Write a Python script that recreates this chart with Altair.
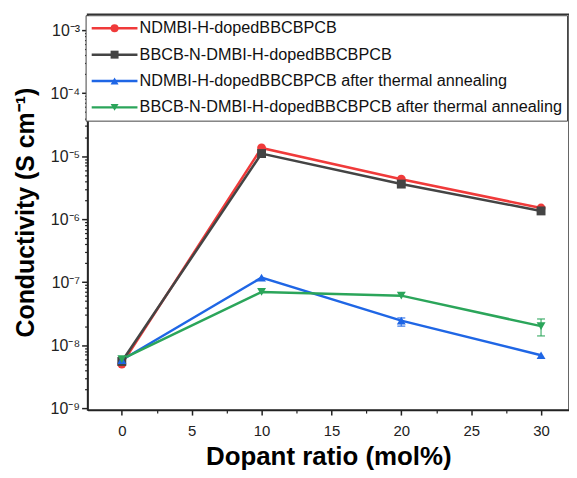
import altair as alt
import pandas as pd

dopant = [0, 10, 20, 30]
series_names = [
    "NDMBI-H-dopedBBCBPCB",
    "BBCB-N-DMBI-H-dopedBBCBPCB",
    "NDMBI-H-dopedBBCBPCB after thermal annealing",
    "BBCB-N-DMBI-H-dopedBBCBPCB after thermal annealing",
]
red_vals = [5.0e-9, 1.35e-5, 4.3e-6, 1.5e-6]
black_vals = [5.5e-9, 1.1e-5, 3.6e-6, 1.35e-6]
blue_vals = [5.8e-9, 1.18e-7, 2.45e-8, 6.9e-9]
green_vals = [6.0e-9, 7.0e-8, 6.1e-8, 2.0e-8]
colors = ["#F03A3A", "#444444", "#1F66E5", "#2BA55A"]
shapes = ["circle", "square", "triangle-up", "triangle-down"]

err_series = [series_names[2], series_names[3]]
err_x = [20, 30]
err_lo = [2.0e-8, 1.4e-8]
err_hi = [2.7e-8, 2.6e-8]

x_major = [0, 5, 10, 15, 20, 25, 30]
x_minor = [2.5, 7.5, 12.5, 17.5, 22.5, 27.5]
y_major = [1e-9, 1e-8, 1e-7, 1e-6, 1e-5, 1e-4, 1e-3]
y_minor = [k * 10.0 ** e for e in range(-9, -3) for k in range(2, 10)]

rows = []
for name, vals in zip(series_names, [red_vals, black_vals, blue_vals, green_vals]):
    for x, v in zip(dopant, vals):
        rows.append({"dopant": x, "cond": v, "series": name, "series_m": name})
df = pd.DataFrame(rows)
err_df = pd.DataFrame({"series": err_series, "dopant": err_x, "lo": err_lo, "hi": err_hi})

xscale = alt.Scale(domain=[-2.45, 32.0], nice=False, zero=False)
yscale = alt.Scale(type="log", domain=[9.3e-10, 1.79e-3], nice=False)

sup = "['⁰','¹','²','³','⁴','⁵','⁶','⁷','⁸','⁹']"
label_expr = "'10⁻' + " + sup + "[round(-log(datum.value)/LN10)]"

common_leg = dict(
    orient="none", legendX=-2, legendY=1, direction="vertical", title=None,
    padding=5, rowPadding=9.5, labelFontSize=16.3, labelLimit=600,
    labelFont="Liberation Sans", symbolOffset=16, labelOffset=17, symbolSize=64,
)

lines = alt.Chart(df).mark_line(strokeWidth=2.5).encode(
    x=alt.X("dopant:Q", scale=xscale, axis=alt.Axis(
        values=x_major, title="Dopant ratio (mol%)", tickSize=5, grid=False,
        labelFontSize=15, labelPadding=9, titleFontSize=26, titleFontWeight="bold",
        titlePadding=5, domainColor="#222", domainWidth=1.5, tickColor="#222",
        tickWidth=1.5, labelColor="#222", titleColor="#000", orient="bottom")),
    y=alt.Y("cond:Q", scale=yscale, axis=alt.Axis(
        values=y_major, labelExpr=label_expr, title="Conductivity (S cm⁻¹)",
        tickSize=6, grid=False, labelFontSize=16, labelPadding=2, titleFontSize=25,
        titleFontWeight="bold", titlePadding=12, domainColor="#222", domainWidth=1.5,
        tickColor="#222", tickWidth=1.5, labelColor="#222", titleColor="#000",
        orient="left")),
    color=alt.Color("series:N", scale=alt.Scale(domain=series_names, range=colors),
                    legend=alt.Legend(symbolType="M-5.75,0L5.75,0", symbolStrokeWidth=2.5,
                                      fillColor="white", strokeColor="#444",
                                      labelColor="#111", zindex=1, **common_leg)),
    order="dopant:Q",
)

err_color = alt.Color("series:N", scale=alt.Scale(domain=series_names, range=colors), legend=None)

err_rule = alt.Chart(err_df).mark_rule(opacity=0.7, strokeWidth=1.5).encode(
    x=alt.X("dopant:Q", scale=xscale, axis=alt.Axis(
        values=x_minor, labels=False, title=None, tickSize=3, domain=False, grid=False,
        tickColor="#222", tickWidth=1.2, orient="bottom")),
    y=alt.Y("lo:Q", scale=yscale, axis=alt.Axis(
        values=y_minor, labels=False, title=None, tickSize=3, domain=False, grid=False,
        tickColor="#222", tickWidth=1.2, orient="left")),
    y2="hi:Q",
    color=err_color,
)

cap_lo = alt.Chart(err_df).mark_tick(orient="horizontal", size=8, thickness=1.5, opacity=0.7).encode(
    x=alt.X("dopant:Q", scale=xscale, axis=None),
    y=alt.Y("lo:Q", scale=yscale, axis=None),
    color=err_color,
)
cap_hi = alt.Chart(err_df).mark_tick(orient="horizontal", size=8, thickness=1.5, opacity=0.7).encode(
    x=alt.X("dopant:Q", scale=xscale, axis=None),
    y=alt.Y("hi:Q", scale=yscale, axis=None),
    color=err_color,
)

pts = alt.Chart(df).mark_point(filled=True, opacity=1, size=80).encode(
    x=alt.X("dopant:Q", scale=xscale, axis=None),
    y=alt.Y("cond:Q", scale=yscale, axis=None),
    color=alt.Color("series_m:N", scale=alt.Scale(domain=series_names, range=colors),
                    legend=alt.Legend(labelOpacity=0, zindex=2, **common_leg)),
    shape=alt.Shape("series_m:N", scale=alt.Scale(domain=series_names, range=shapes),
                    legend=alt.Legend(labelOpacity=0, zindex=2, **common_leg)),
)

chart = alt.layer(lines, err_rule, cap_lo, cap_hi, pts).resolve_scale(
    color="independent", shape="independent"
).resolve_axis(x="independent", y="independent").properties(
    width=484, height=398,
    padding={"left": 5, "top": 5, "right": 0, "bottom": 5},
).configure(font="Liberation Sans").configure_view(stroke="#333", strokeWidth=1.5)

chart.save("out.html", embed_options={"renderer": "svg", "actions": False})
